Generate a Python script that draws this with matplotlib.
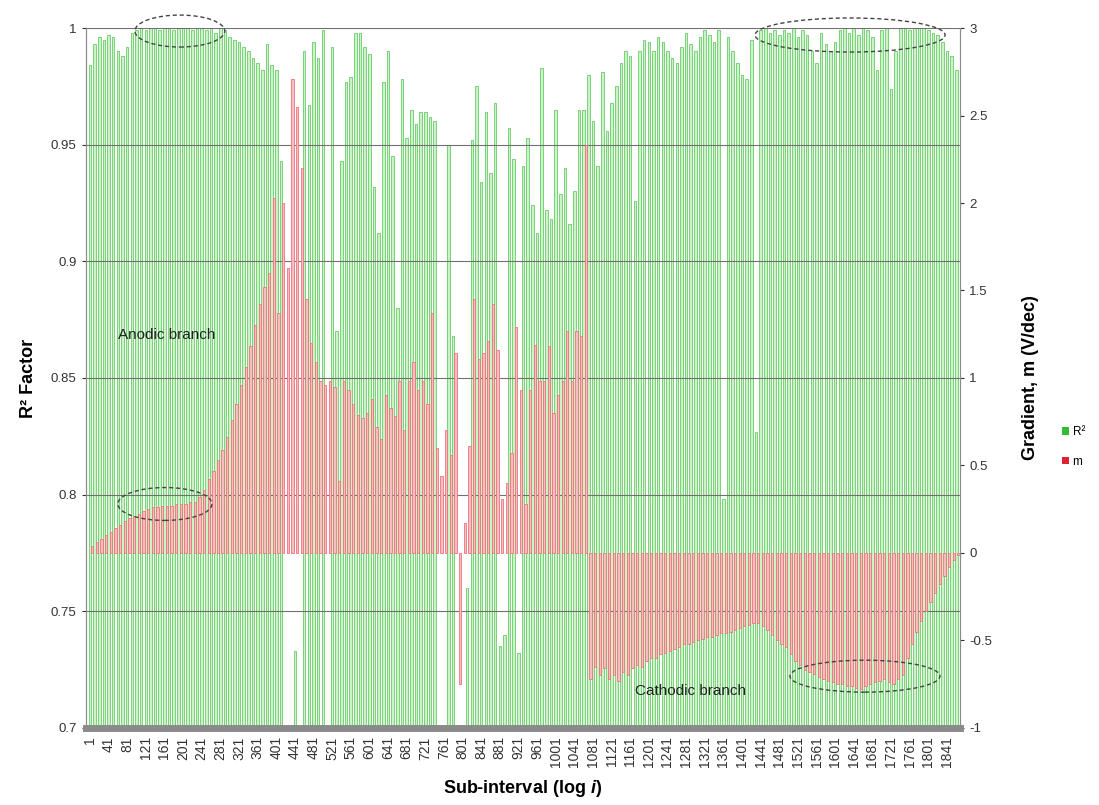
import numpy as np
import matplotlib
matplotlib.use('Agg')
import matplotlib.pyplot as plt
from matplotlib.patches import Ellipse, Patch

plt.rcParams['font.family'] = ['Liberation Sans', 'DejaVu Sans']
plt.rcParams['mathtext.fontset'] = 'custom'
plt.rcParams['mathtext.it'] = 'Liberation Sans:italic:bold'
plt.rcParams['mathtext.rm'] = 'Liberation Sans:bold'

# every 10th sub-interval
sub_interval = list(range(1, 1862, 10))

r2 = [
    0.984, 0.993, 0.996, 0.995, 0.997, 0.996, 0.990, 0.988, 0.992, 0.998,
    0.999, 1.000, 0.999, 1.000, 1.000, 0.999, 1.000, 1.000, 0.999, 1.000,
    1.000, 1.000, 0.999, 1.000, 1.000, 0.999, 1.000, 0.998, 1.000, 0.999,
    0.996, 0.995, 0.994, 0.992, 0.990, 0.987, 0.985, 0.982, 0.993, 0.984,
    0.982, 0.943, 0.650, 0.650, 0.733, 0.650, 0.990, 0.967, 0.994, 0.987,
    0.999, 0.650, 0.992, 0.870, 0.943, 0.977, 0.979, 0.998, 0.998, 0.992,
    0.989, 0.932, 0.912, 0.977, 0.990, 0.945, 0.880, 0.978, 0.953, 0.965,
    0.959, 0.964, 0.964, 0.962, 0.960, 0.650, 0.650, 0.950, 0.868, 0.650,
    0.650, 0.760, 0.952, 0.975, 0.934, 0.964, 0.938, 0.968, 0.735, 0.740,
    0.957, 0.944, 0.732, 0.941, 0.953, 0.924, 0.912, 0.983, 0.922, 0.918,
    0.965, 0.929, 0.940, 0.916, 0.930, 0.965, 0.965, 0.980, 0.960, 0.941,
    0.981, 0.956, 0.968, 0.975, 0.985, 0.990, 0.988, 0.926, 0.990, 0.995,
    0.994, 0.990, 0.996, 0.994, 0.990, 0.987, 0.985, 0.992, 0.998, 0.993,
    0.990, 0.996, 0.999, 0.997, 0.994, 0.999, 0.798, 0.996, 0.990, 0.985,
    0.980, 0.978, 0.995, 0.827, 0.999, 1.000, 0.998, 0.999, 0.997, 0.999,
    0.998, 1.000, 0.996, 0.999, 0.997, 0.990, 0.985, 0.998, 0.993, 0.990,
    0.994, 0.999, 1.000, 0.998, 1.000, 0.997, 1.000, 0.999, 0.996, 0.982,
    0.999, 1.000, 0.974, 0.990, 1.000, 1.000, 0.999, 1.000, 1.000, 1.000,
    0.999, 0.998, 0.997, 0.994, 0.990, 0.988, 0.982,
]

m = [
    0.04, 0.06, 0.08, 0.10, 0.12, 0.14, 0.16, 0.18, 0.20, 0.21,
    0.22, 0.24, 0.25, 0.26, 0.26, 0.27, 0.27, 0.27, 0.28, 0.28,
    0.28, 0.29, 0.29, 0.32, 0.36, 0.42, 0.47, 0.53, 0.59, 0.66,
    0.76, 0.85, 0.96, 1.06, 1.18, 1.30, 1.42, 1.52, 1.60, 2.03,
    1.37, 2.00, 1.63, 2.71, 2.55, 2.20, 1.45, 1.20, 1.09, 0.98,
    0.96, 0.98, 0.95, 0.41, 0.98, 0.93, 0.85, 0.79, 0.77, 0.80,
    0.88, 0.72, 0.65, 0.90, 0.83, 0.78, 0.98, 0.70, 0.98, 1.09,
    0.93, 0.98, 0.85, 1.37, 0.60, 0.44, 0.70, 0.56, 1.14, -0.75,
    0.17, 0.61, 1.45, 1.11, 1.14, 1.21, 1.42, 1.16, 0.31, 0.40,
    0.57, 1.29, 0.93, 0.28, 0.93, 1.19, 0.98, 0.98, 1.18, 0.80,
    0.90, 0.98, 1.27, 0.98, 1.27, 1.24, 2.33, -0.72, -0.65, -0.70,
    -0.66, -0.72, -0.70, -0.73, -0.68, -0.70, -0.66, -0.64, -0.65, -0.62,
    -0.60, -0.60, -0.58, -0.57, -0.56, -0.55, -0.54, -0.52, -0.52, -0.51,
    -0.50, -0.49, -0.48, -0.48, -0.47, -0.46, -0.46, -0.45, -0.44, -0.43,
    -0.42, -0.41, -0.40, -0.40, -0.42, -0.44, -0.47, -0.50, -0.52, -0.54,
    -0.58, -0.62, -0.64, -0.67, -0.68, -0.69, -0.71, -0.72, -0.73, -0.74,
    -0.75, -0.75, -0.76, -0.76, -0.77, -0.78, -0.76, -0.75, -0.74, -0.73,
    -0.72, -0.74, -0.75, -0.72, -0.70, -0.60, -0.52, -0.45, -0.39, -0.33,
    -0.28, -0.23, -0.18, -0.13, -0.08, -0.04, -0.01,
]

tick_labels = list(range(1, 1842, 40))

x = np.array(sub_interval)

fig = plt.figure(figsize=(10.99, 8.05), dpi=100)
ax = fig.add_axes([0.078, 0.0957, 0.7955, 0.8695])
ax2 = ax.twinx()

ax.set_zorder(1)
ax2.set_zorder(2)
ax2.patch.set_visible(False)

# R2 columns on the left axis, gradient columns on the right axis
ax.bar(x, r2, width=5.5, color='#c8f5c4', edgecolor='#6cc86c', linewidth=0.6)
ax2.bar(x + 5, m, width=5, color='#f9bcc2', edgecolor='#ef737c', linewidth=0.6)

ax.set_xlim(-8, 1869)
ax.set_ylim(0.7, 1.0)
ax2.set_ylim(-1, 3)

ax.set_yticks([0.7, 0.75, 0.8, 0.85, 0.9, 0.95, 1.0])
ax.set_yticklabels(['0.7', '0.75', '0.8', '0.85', '0.9', '0.95', '1'])
ax2.set_yticks([-1, -0.5, 0, 0.5, 1, 1.5, 2, 2.5, 3])
ax2.set_yticklabels(['-1', '-0.5', '0', '0.5', '1', '1.5', '2', '2.5', '3'])
ax.set_xticks(tick_labels)
ax.set_xticklabels([str(t) for t in tick_labels], rotation=90)

ax.yaxis.grid(True, color='#707070', linewidth=0.8)
ax.set_axisbelow(False)
for gl in ax.get_ygridlines():
    gl.set_zorder(3)

for a in (ax, ax2):
    a.tick_params(colors='#333333', labelsize=9.5, length=3, width=0.8)
    for s in a.spines.values():
        s.set_color('#8c8c8c')
        s.set_linewidth(0.8)
ax.tick_params(axis='x', labelsize=10, length=0, pad=6)
ax2.spines['bottom'].set_linewidth(5)
ax2.spines['bottom'].set_color('#8a8a8a')
ax2.spines['top'].set_visible(False)
ax.spines['top'].set_visible(False)

ax.set_ylabel('R² Factor', fontsize=13, fontweight='bold', labelpad=10)
ax2.set_ylabel('Gradient, m (V/dec)', fontsize=13, fontweight='bold', labelpad=22)
ax.set_xlabel(r'Sub-interval (log $\mathit{i}$)', fontsize=13, fontweight='bold', labelpad=8)

ax2.text(61, 1.246, 'Anodic branch', fontsize=11, color='#222222', va='center')
ax2.text(1171, -0.79, 'Cathodic branch', fontsize=11, color='#222222', va='center')

# dashed ellipses around the plateau regions
ellipses = [
    (194, 0.9987, 193, 0.0137),
    (162, 0.796, 202, 0.0141),
    (1633, 0.997, 408, 0.0146),
    (1665, 0.7222, 322, 0.0137),
]
for cx, cy, w, h in ellipses:
    ax2.add_patch(Ellipse((cx, (cy - 0.775) / 0.075), w, h / 0.075, fill=False,
                          edgecolor='#444444', linestyle=(0, (3, 2)),
                          linewidth=1.0, clip_on=False, zorder=5))

handles = [Patch(facecolor='#33bb33', label='R²'), Patch(facecolor='#dd2233', label='m')]
fig.legend(handles=handles, loc='center left', bbox_to_anchor=(0.962, 0.445),
           frameon=False, fontsize=8.5, handlelength=0.6, handleheight=0.6,
           handletextpad=0.3, labelspacing=1.5, borderaxespad=0)

fig.savefig('out.png', dpi=100)
